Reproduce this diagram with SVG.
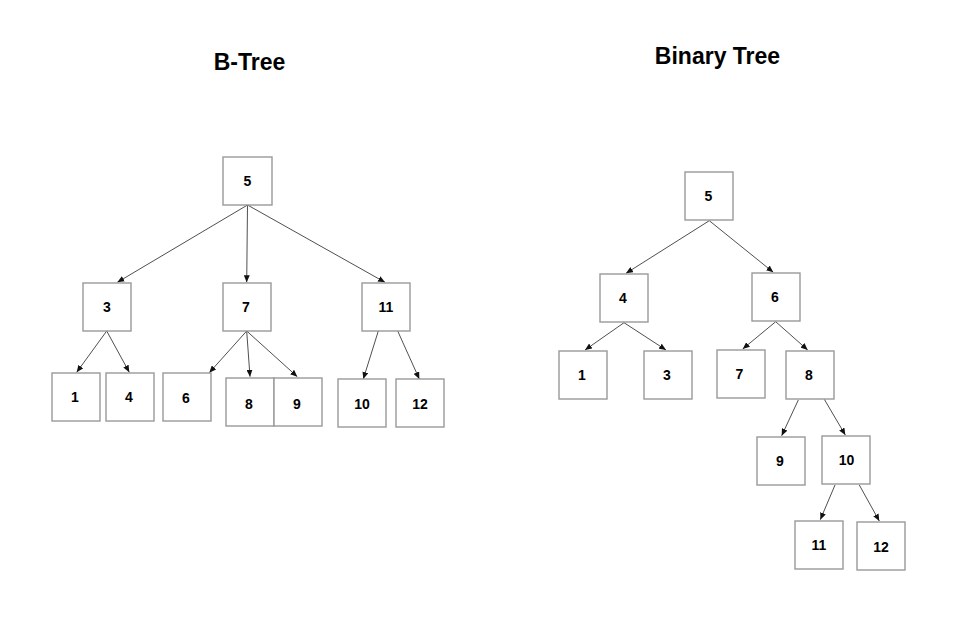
<svg xmlns="http://www.w3.org/2000/svg" width="956" height="618" viewBox="0 0 956 618">
<defs>
<marker id="ah" markerWidth="7" markerHeight="6" refX="7" refY="3" orient="auto" markerUnits="userSpaceOnUse"><path d="M0,0 L7,3 L0,6 z" fill="#111"/></marker>
<style>
.box{fill:#fff;stroke:#999;stroke-width:1.4}
.lbl{font-family:"Liberation Sans",Arial,sans-serif;font-weight:bold;font-size:14px;text-anchor:middle;fill:#000}
.ttl{font-family:"Liberation Sans",Arial,sans-serif;font-weight:bold;font-size:23px;text-anchor:middle;fill:#000}
.edge{stroke:#222;stroke-width:0.8;fill:none;marker-end:url(#ah)}
</style>
</defs>
<rect width="956" height="618" fill="#fff"/>
<text class="ttl" x="249.5" y="69.5">B-Tree</text>
<text class="ttl" x="717.5" y="64">Binary Tree</text>
<g id="connectors">
<line class="edge" x1="247.5" y1="205" x2="117.3" y2="282.3"/>
<line class="edge" x1="247.5" y1="205" x2="246.7" y2="282.3"/>
<line class="edge" x1="247.5" y1="205" x2="385" y2="282.3"/>
<line class="edge" x1="106.7" y1="331" x2="76.7" y2="372.3"/>
<line class="edge" x1="106.7" y1="331" x2="129.3" y2="372.3"/>
<line class="edge" x1="246.7" y1="331" x2="209.3" y2="372.7"/>
<line class="edge" x1="246.7" y1="331" x2="250" y2="376.7"/>
<line class="edge" x1="246.7" y1="331" x2="297.3" y2="376.7"/>
<line class="edge" x1="378.3" y1="331" x2="363.3" y2="379"/>
<line class="edge" x1="397.7" y1="331" x2="419.3" y2="379"/>
<line class="edge" x1="709.3" y1="220.7" x2="626" y2="273.3"/>
<line class="edge" x1="709.3" y1="220.7" x2="773.3" y2="272.3"/>
<line class="edge" x1="624" y1="322.7" x2="585" y2="350"/>
<line class="edge" x1="624" y1="322.7" x2="666" y2="350"/>
<line class="edge" x1="775.7" y1="321.7" x2="742.7" y2="349"/>
<line class="edge" x1="775.7" y1="321.7" x2="807.7" y2="350"/>
<line class="edge" x1="798.3" y1="400" x2="781.7" y2="435.7"/>
<line class="edge" x1="824.3" y1="399.3" x2="845.3" y2="435"/>
<line class="edge" x1="835" y1="485" x2="820.3" y2="519.7"/>
<line class="edge" x1="859.3" y1="485" x2="879.3" y2="521"/>
</g>
<g id="b5"><rect class="box" x="223" y="157" width="49" height="48"/><text class="lbl" x="247.5" y="186">5</text></g>
<g id="b3"><rect class="box" x="83" y="283" width="48" height="48"/><text class="lbl" x="107" y="312">3</text></g>
<g id="b7"><rect class="box" x="223" y="283" width="48" height="48"/><text class="lbl" x="246" y="312">7</text></g>
<g id="b11"><rect class="box" x="362" y="283" width="48" height="48"/><text class="lbl" x="386" y="312">11</text></g>
<g id="b1"><rect class="box" x="52" y="373" width="48" height="48"/><text class="lbl" x="75" y="402">1</text></g>
<g id="b4"><rect class="box" x="106" y="373" width="48" height="48"/><text class="lbl" x="129" y="402">4</text></g>
<g id="b6"><rect class="box" x="163" y="373" width="48" height="48"/><text class="lbl" x="186" y="403">6</text></g>
<g id="b8"><rect class="box" x="226" y="378" width="48" height="48"/><text class="lbl" x="249" y="409">8</text></g>
<g id="b9"><rect class="box" x="274" y="378" width="48" height="48"/><text class="lbl" x="297" y="409">9</text></g>
<g id="b10"><rect class="box" x="338" y="379" width="48" height="48"/><text class="lbl" x="362" y="409">10</text></g>
<g id="b12"><rect class="box" x="396" y="379" width="48" height="48"/><text class="lbl" x="420" y="409">12</text></g>
<g id="t5"><rect class="box" x="685" y="172" width="48" height="48"/><text class="lbl" x="708.5" y="201">5</text></g>
<g id="t4"><rect class="box" x="600" y="274" width="48" height="48"/><text class="lbl" x="623" y="303">4</text></g>
<g id="t6"><rect class="box" x="752" y="273" width="48" height="48"/><text class="lbl" x="775" y="302">6</text></g>
<g id="t1"><rect class="box" x="559" y="351" width="48" height="48"/><text class="lbl" x="582" y="380">1</text></g>
<g id="t3"><rect class="box" x="644" y="351" width="48" height="48"/><text class="lbl" x="667" y="380">3</text></g>
<g id="t7"><rect class="box" x="717" y="350" width="48" height="48"/><text class="lbl" x="739.5" y="378.5">7</text></g>
<g id="t8"><rect class="box" x="786" y="351" width="48" height="48"/><text class="lbl" x="809" y="380">8</text></g>
<g id="t9"><rect class="box" x="757" y="437" width="48" height="48"/><text class="lbl" x="780" y="466">9</text></g>
<g id="t10"><rect class="box" x="822" y="436" width="48" height="48"/><text class="lbl" x="846.5" y="465">10</text></g>
<g id="t11"><rect class="box" x="795" y="521" width="48" height="48"/><text class="lbl" x="819" y="550">11</text></g>
<g id="t12"><rect class="box" x="857" y="522" width="48" height="48"/><text class="lbl" x="881" y="552">12</text></g>
</svg>
